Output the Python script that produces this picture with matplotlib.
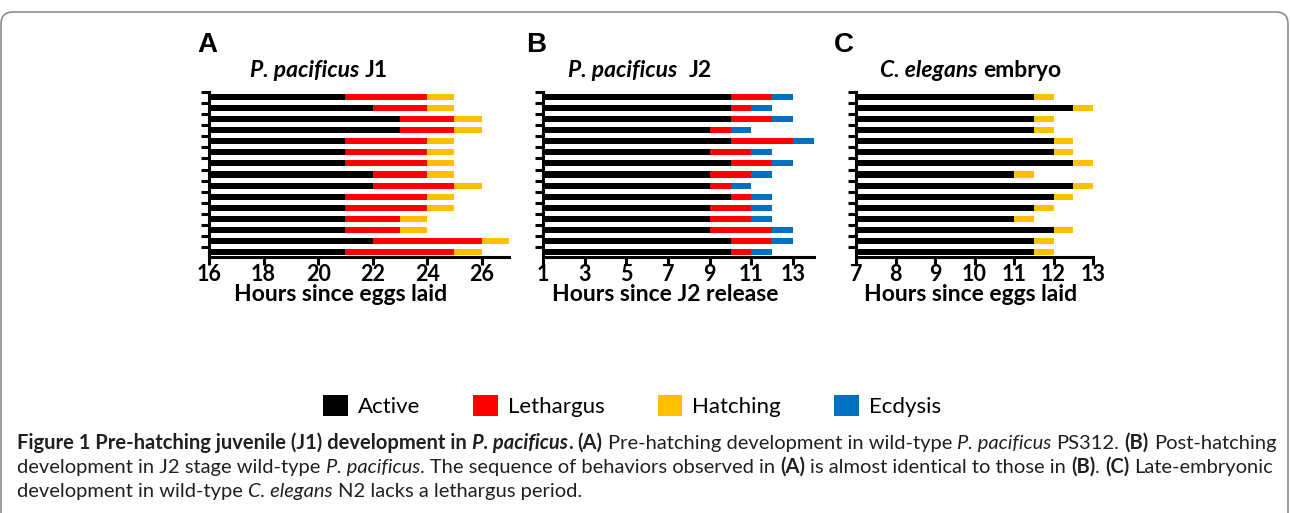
import numpy as np
import matplotlib.pyplot as plt
from matplotlib.patches import Patch, FancyBboxPatch
from matplotlib.transforms import IdentityTransform

# bar end times, listed top bar first
a_active = [21, 22, 23, 23, 21, 21, 21, 22, 22, 21, 21, 21, 21, 22, 21]
a_leth = [24, 24, 25, 25, 24, 24, 24, 24, 25, 24, 24, 23, 23, 26, 25]
a_hatch = [25, 25, 26, 26, 25, 25, 25, 25, 26, 25, 25, 24, 24, 27, 26]

b_active = [10, 10, 10, 9, 10, 9, 10, 9, 9, 10, 9, 9, 9, 10, 10]
b_leth = [12, 11, 12, 10, 13, 11, 12, 11, 10, 11, 11, 11, 12, 12, 11]
b_ecd = [13, 12, 13, 11, 14, 12, 13, 12, 11, 12, 12, 12, 13, 13, 12]

c_active = [11.5, 12.5, 11.5, 11.5, 12, 12, 12.5, 11, 12.5, 12, 11.5, 11, 12, 11.5, 11.5]
c_hatch = [12, 13, 12, 12, 12.5, 12.5, 13, 11.5, 13, 12.5, 12, 11.5, 12.5, 12, 12]

a_ticks = [16, 18, 20, 22, 24, 26]
b_ticks = [1, 3, 5, 7, 9, 11, 13]
c_ticks = [7, 8, 9, 10, 11, 12, 13]

labels = ['Active', 'Lethargus', 'Hatching', 'Ecdysis']
cols = {'Active': '#000000', 'Lethargus': '#FF0000', 'Hatching': '#FFC000', 'Ecdysis': '#0070C0'}

W, H = 1290, 513
plt.rcParams['font.family'] = ['Lato', 'DejaVu Sans']
fig = plt.figure(figsize=(W / 100, H / 100), dpi=100)
r = fig.canvas.get_renderer()


def px_axes(l, t, rgt, b):
    return fig.add_axes([l / W, 1 - b / H, (rgt - l) / W, (b - t) / H])


def panel(ax, x0, x1, ticks, segs, xlabel, lab_x):
    n = len(segs[0][0])
    y = np.arange(n)[::-1]
    left = np.full(n, x0, dtype=float)
    for ends, name in segs:
        ends = np.array(ends, dtype=float)
        ax.barh(y, ends - left, left=left, height=0.55, color=cols[name], lw=0)
        left = ends
    ax.set_xlim(x0, x1)
    ax.set_ylim(-0.45, n - 0.55)
    ax.set_xticks(ticks)
    ax.set_yticks(np.arange(n) + 0.45)
    ax.set_yticklabels([])
    for s in ['top', 'right']:
        ax.spines[s].set_visible(False)
    for s in ['left', 'bottom']:
        ax.spines[s].set_linewidth(2.2)
    ax.tick_params(axis='y', length=6, width=2.2, direction='out')
    ax.tick_params(axis='x', length=6, width=2.2, direction='out', labelsize=15.5, pad=-1)
    for t in ax.get_xticklabels():
        t.set_fontweight('bold')
    ax.set_xlabel(xlabel, fontsize=16.5, fontweight='bold')
    ax.xaxis.label.set_va('center')
    ax.xaxis.set_label_coords(lab_x, -0.23)


def rich(x, y, parts, size, family, center=False, color='k'):
    # draw text pieces with mixed styles one after another (x, y in pixels from top-left)
    sp = fig.text(0, 0, 'x x', fontsize=size, family=family).get_window_extent(r).width
    sp -= fig.text(0, 0, 'xx', fontsize=size, family=family).get_window_extent(r).width
    for t in fig.texts[-2:]:
        t.remove()
    made = []
    pos = x
    for s, w, st in parts:
        lead = len(s) - len(s.lstrip(' '))
        trail = len(s) - len(s.rstrip(' '))
        pos += lead * sp
        t = fig.text(pos / W, 1 - y / H, s.strip(' '), fontsize=size, fontweight=w,
                     fontstyle=st, family=family, va='baseline', color=color)
        pos += t.get_window_extent(r).width + trail * sp
        made.append(t)
    if center:
        shift = (pos - x) / 2
        for t in made:
            px, py = t.get_position()
            t.set_position((px - shift / W, py))
    return pos - x


axA = px_axes(209, 92, 509, 257)
panel(axA, 16, 27, a_ticks, [(a_active, 'Active'), (a_leth, 'Lethargus'), (a_hatch, 'Hatching')],
      'Hours since eggs laid', 0.44)
axB = px_axes(543, 92, 814, 257)
panel(axB, 1, 14, b_ticks, [(b_active, 'Active'), (b_leth, 'Lethargus'), (b_ecd, 'Ecdysis')],
      'Hours since J2 release', 0.45)
axC = px_axes(856, 92, 1093, 257)
panel(axC, 7, 13, c_ticks, [(c_active, 'Active'), (c_hatch, 'Hatching')],
      'Hours since eggs laid', 0.485)

# panel letters and titles
for lx, letter in [(197, 'A'), (526, 'B'), (834, 'C')]:
    fig.text(lx / W, 1 - 52 / H, letter, fontsize=20, fontweight='bold',
             family=['Liberation Sans', 'DejaVu Sans'], va='baseline')
rich(319, 77, [('P. pacificus', 'bold', 'italic'), (' J1', 'bold', 'normal')], 16.5, ['Lato'], center=True)
rich(640, 77, [('P. pacificus', 'bold', 'italic'), ('  J2', 'bold', 'normal')], 16.5, ['Lato'], center=True)
rich(971, 77, [('C. elegans', 'bold', 'italic'), (' embryo', 'bold', 'normal')], 16.5, ['Lato'], center=True)

# legend
handles = [Patch(facecolor=cols[k], edgecolor='none') for k in labels]
fig.legend(handles, labels, loc='center', bbox_to_anchor=(632 / W, 1 - 406 / H), ncol=4,
           frameon=False, fontsize=16, handlelength=1.1, handleheight=1.1,
           handletextpad=0.45, columnspacing=2.4)

# caption
cap_fam = ['Lato', 'DejaVu Sans']
line1 = [('Figure 1 Pre-hatching juvenile (J1) development in ', 'bold', 'normal'),
         ('P. pacificus', 'bold', 'italic'), ('. ', 'bold', 'normal'), ('(A)', 'bold', 'normal'),
         (' Pre-hatching development in wild-type ', 'normal', 'normal'),
         ('P. pacificus', 'normal', 'italic'), (' PS312. ', 'normal', 'normal'),
         ('(B)', 'bold', 'normal'), (' Post-hatching', 'normal', 'normal')]
line2 = [('development in J2 stage wild-type ', 'normal', 'normal'), ('P. pacificus', 'normal', 'italic'),
         ('. The sequence of behaviors observed in ', 'normal', 'normal'), ('(A)', 'bold', 'normal'),
         (' is almost identical to those in ', 'normal', 'normal'), ('(B)', 'bold', 'normal'),
         ('. ', 'normal', 'normal'), ('(C)', 'bold', 'normal'), (' Late-embryonic', 'normal', 'normal')]
line3 = [('development in wild-type ', 'normal', 'normal'), ('C. elegans', 'normal', 'italic'),
         (' N2 lacks a lethargus period.', 'normal', 'normal')]

n0 = len(fig.texts)
w1 = rich(17, 449, line1, 10, cap_fam)
for t in fig.texts[n0:]:
    t.remove()
cap_size = 10 * 1258 / w1
rich(17, 449, line1, cap_size, cap_fam, color='#231f20')
rich(17, 473, line2, cap_size, cap_fam, color='#231f20')
rich(17, 497, line3, cap_size, cap_fam, color='#231f20')

# rounded frame around the figure
fig.patches.append(FancyBboxPatch((1, -40), 1287, 40 + H - 12, boxstyle='round,pad=0,rounding_size=12',
                                  transform=IdentityTransform(), fill=False, ec='#8c8c8c', lw=1.2))

fig.savefig('out.png', dpi=100)
